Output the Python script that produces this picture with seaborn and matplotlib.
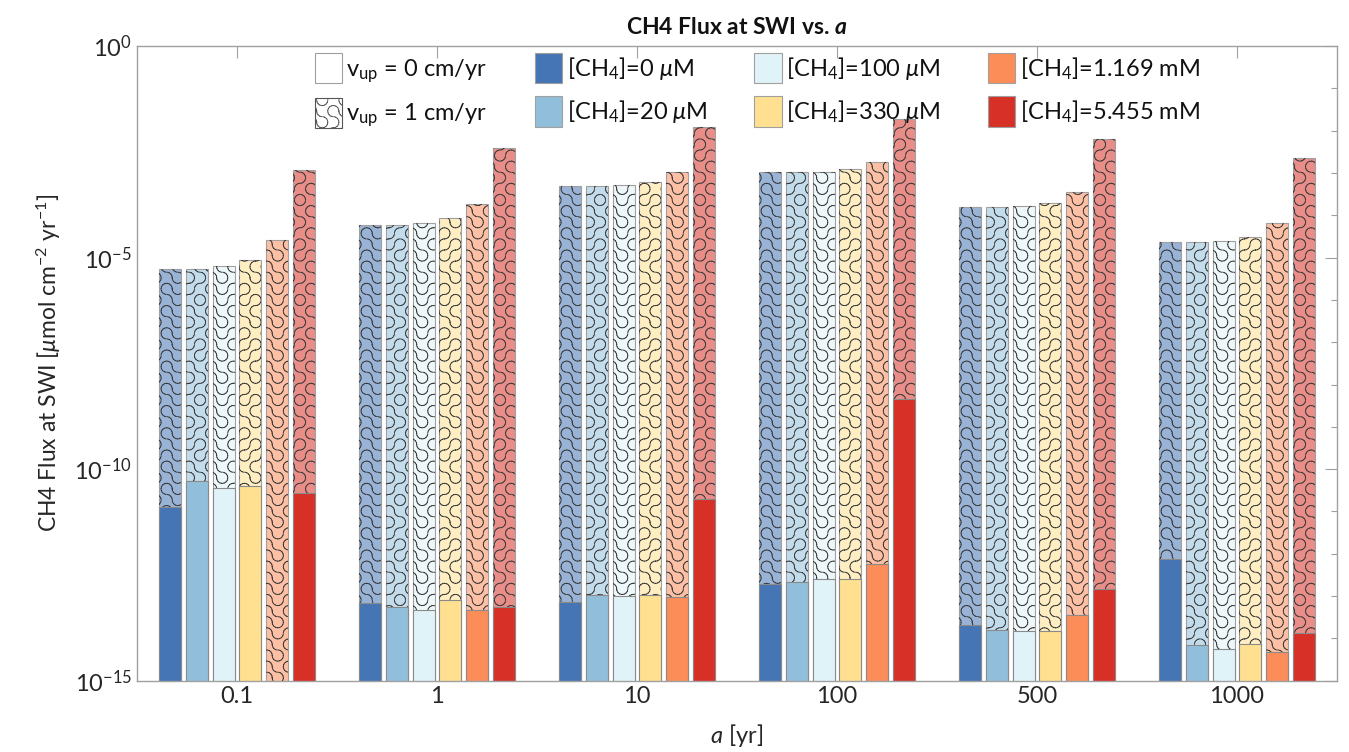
import warnings
import numpy as np
import pandas as pd
import matplotlib
matplotlib.use("Agg")
import matplotlib.pyplot as plt
import matplotlib.hatch as mhatch
from matplotlib.path import Path
from matplotlib.patches import Patch
from matplotlib.ticker import FixedLocator, NullFormatter
import seaborn as sns

warnings.filterwarnings("ignore")

# ---------------------------------------------------------------- data
a_labels = ["0.1", "1", "10", "100", "500", "1000"]
ch4_labels = [
    r"[CH$_4$]=0 $\mu$M",
    r"[CH$_4$]=20 $\mu$M",
    r"[CH$_4$]=100 $\mu$M",
    r"[CH$_4$]=330 $\mu$M",
    r"[CH$_4$]=1.169 mM",
    r"[CH$_4$]=5.455 mM",
]
ch4_colors = ["#4575b4", "#91bfdb", "#e0f3f8", "#fee090", "#fc8d59", "#d73027"]

# flux at the SWI for v_up = 0 cm/yr (rows: a, columns: [CH4])
flux_vup0 = [
    [1.29e-11, 5.2e-11, 3.5e-11, 4.1e-11, np.nan, 2.7e-11],
    [6.9e-14, 5.4e-14, 4.6e-14, 8.2e-14, 4.7e-14, 5.4e-14],
    [7.4e-14, 1.09e-13, 9.8e-14, 1.04e-13, 9.7e-14, 2.0e-11],
    [1.96e-13, 2.2e-13, 2.6e-13, 2.6e-13, 5.6e-13, 4.6e-9],
    [2.05e-14, 1.6e-14, 1.48e-14, 1.48e-14, 3.6e-14, 1.49e-13],
    [7.4e-13, 6.8e-15, 5.5e-15, 7.4e-15, 4.9e-15, 1.32e-14],
]
# flux at the SWI for v_up = 1 cm/yr
flux_vup1 = [
    [5.4e-6, 5.5e-6, 6.3e-6, 8.7e-6, 2.6e-5, 1.18e-3],
    [5.9e-5, 6.0e-5, 6.4e-5, 8.5e-5, 1.8e-4, 3.8e-3],
    [4.8e-4, 4.8e-4, 5.1e-4, 6.0e-4, 1.03e-3, 1.2e-2],
    [1.03e-3, 1.03e-3, 1.05e-3, 1.23e-3, 1.8e-3, 1.9e-2],
    [1.55e-4, 1.55e-4, 1.66e-4, 1.95e-4, 3.5e-4, 6.3e-3],
    [2.3e-5, 2.3e-5, 2.45e-5, 3.1e-5, 6.7e-5, 2.3e-3],
]


def to_long(table):
    rows = []
    for a, vals in zip(a_labels, table):
        for c, v in zip(ch4_labels, vals):
            rows.append({"a": a, "CH4": c, "flux": v})
    return pd.DataFrame(rows)


df0 = to_long(flux_vup0)
df1 = to_long(flux_vup1)


# ------------------------------------------------ wavy (truchet) hatch
class TruchetHatch(mhatch.HatchPatternBase):
    cells = 9
    dashes = 4

    def __init__(self, hatch, density):
        if "~" in hatch:
            self._verts, self._codes = self._build()
            self.num_vertices = len(self._verts)
        else:
            self.num_vertices = 0

    def _build(self):
        n = self.cells
        s = 1.0 / n
        verts, codes = [], []
        for i in range(n):
            for j in range(n):
                flip = ((i * 7 + 3) * (j * 11 + 5) + i) % 5 < 2
                x0, y0 = i * s, j * s
                if flip:
                    arcs = [(x0, y0, 0, 90), (x0 + s, y0 + s, 180, 270)]
                else:
                    arcs = [(x0 + s, y0, 90, 180), (x0, y0 + s, 270, 360)]
                for cx, cy, t0, t1 in arcs:
                    for k in range(self.dashes):
                        ta = t0 + (t1 - t0) * k / self.dashes
                        tb = t0 + (t1 - t0) * (k + 0.72) / self.dashes
                        th = np.radians(np.linspace(ta, tb, 4))
                        pts = np.column_stack([cx + 0.5 * s * np.cos(th),
                                               cy + 0.5 * s * np.sin(th)])
                        verts.extend(pts)
                        codes.extend([Path.MOVETO] + [Path.LINETO] * 3)
        return np.array(verts), np.array(codes, dtype=Path.code_type)

    def set_vertices_and_codes(self, vertices, codes):
        vertices[:] = self._verts
        codes[:] = self._codes


mhatch._hatch_types.append(TruchetHatch)

# ---------------------------------------------------------------- style
sns.set_style("white")
plt.rcParams["font.family"] = ["Lato", "DejaVu Sans"]
plt.rcParams["mathtext.fontset"] = "custom"
plt.rcParams["mathtext.rm"] = "Lato"
plt.rcParams["mathtext.it"] = "Lato:italic"
plt.rcParams["mathtext.bf"] = "Lato:bold"
plt.rcParams["mathtext.bfit"] = "Lato:italic:bold"
plt.rcParams["hatch.linewidth"] = 0.7

edge_gray = "#a0a0a0"
hatch_ink = "#3a3a3a"
text_col = "#262626"


def lighten(c, alpha=0.55):
    rgb = np.array(matplotlib.colors.to_rgb(c))
    return tuple(rgb * alpha + (1 - alpha))


light_colors = [lighten(c) for c in ch4_colors]

fig = plt.figure(figsize=(13.49, 7.52), dpi=100)
ax = fig.add_axes([0.1016, 0.0948, 0.8895, 0.844])
ax.set_yscale("log")

common = dict(x="a", y="flux", hue="CH4", order=a_labels, hue_order=ch4_labels,
              saturation=1, gap=0.17, errorbar=None, legend=False, ax=ax)

# v_up = 1 cm/yr: pale bars with a wavy hatch
sns.barplot(data=df1, palette=light_colors, edgecolor=edge_gray, linewidth=0.8, **common)
n_before = len(ax.patches)
sns.barplot(data=df1, palette=light_colors, linewidth=0, **common)
for p in ax.patches[n_before:]:
    p.set_facecolor("none")
    p.set_edgecolor(hatch_ink)
    p.set_linewidth(0)
    p.set_hatch("~")

# v_up = 0 cm/yr: solid bars in front
sns.barplot(data=df0, palette=ch4_colors, edgecolor="#8a8a8a", linewidth=0.8, **common)

# ---------------------------------------------------------------- axes
ax.set_ylim(1e-15, 1e0)
ax.set_xlim(-0.5, 5.5)
ax.yaxis.set_major_locator(FixedLocator([1e-15, 1e-10, 1e-5, 1e0]))
ax.yaxis.set_minor_locator(FixedLocator([10.0 ** k for k in range(-15, 1)]))
ax.yaxis.set_minor_formatter(NullFormatter())
ax.set_axisbelow(False)
ax.tick_params(which="both", direction="in", top=True, right=True,
               color=edge_gray, labelsize=17, labelcolor=text_col)
ax.tick_params(which="major", length=8.5, width=0.8)
ax.tick_params(which="minor", length=4.3, width=0.8)
for sp in ax.spines.values():
    sp.set_color(edge_gray)
    sp.set_linewidth(1.0)

ax.set_xlabel(r"$a$ [yr]", fontsize=17, color=text_col, labelpad=11)
ax.set_ylabel(r"CH4 Flux at SWI [$\mu$mol cm$^{-2}$ yr$^{-1}$]", fontsize=16.5,
              color=text_col, labelpad=8)
ax.set_title(r"CH4 Flux at SWI vs. $\mathbfit{a}$", fontsize=16.5, fontweight="bold",
             color="#111111", pad=9)

# ---------------------------------------------------------------- legend
handles = [
    Patch(facecolor="white", edgecolor=edge_gray, linewidth=0.8,
          label=r"v$_{\mathregular{up}}$ = 0 cm/yr"),
    Patch(facecolor="white", edgecolor="#555555", linewidth=0.8, hatch="~",
          label=r"v$_{\mathregular{up}}$ = 1 cm/yr"),
]
for c, lab in zip(ch4_colors, ch4_labels):
    handles.append(Patch(facecolor=c, edgecolor=edge_gray, linewidth=0.8, label=lab))

ax.legend(handles=handles, ncol=4, loc="upper left", bbox_to_anchor=(0.142, 1.0),
          frameon=False, fontsize=17, handlelength=1.15, handleheight=1.6,
          handletextpad=0.2, columnspacing=2.0, labelspacing=0.55,
          borderaxespad=0.0, borderpad=0.3, labelcolor="#111111")

fig.savefig("out.png", dpi=100)
